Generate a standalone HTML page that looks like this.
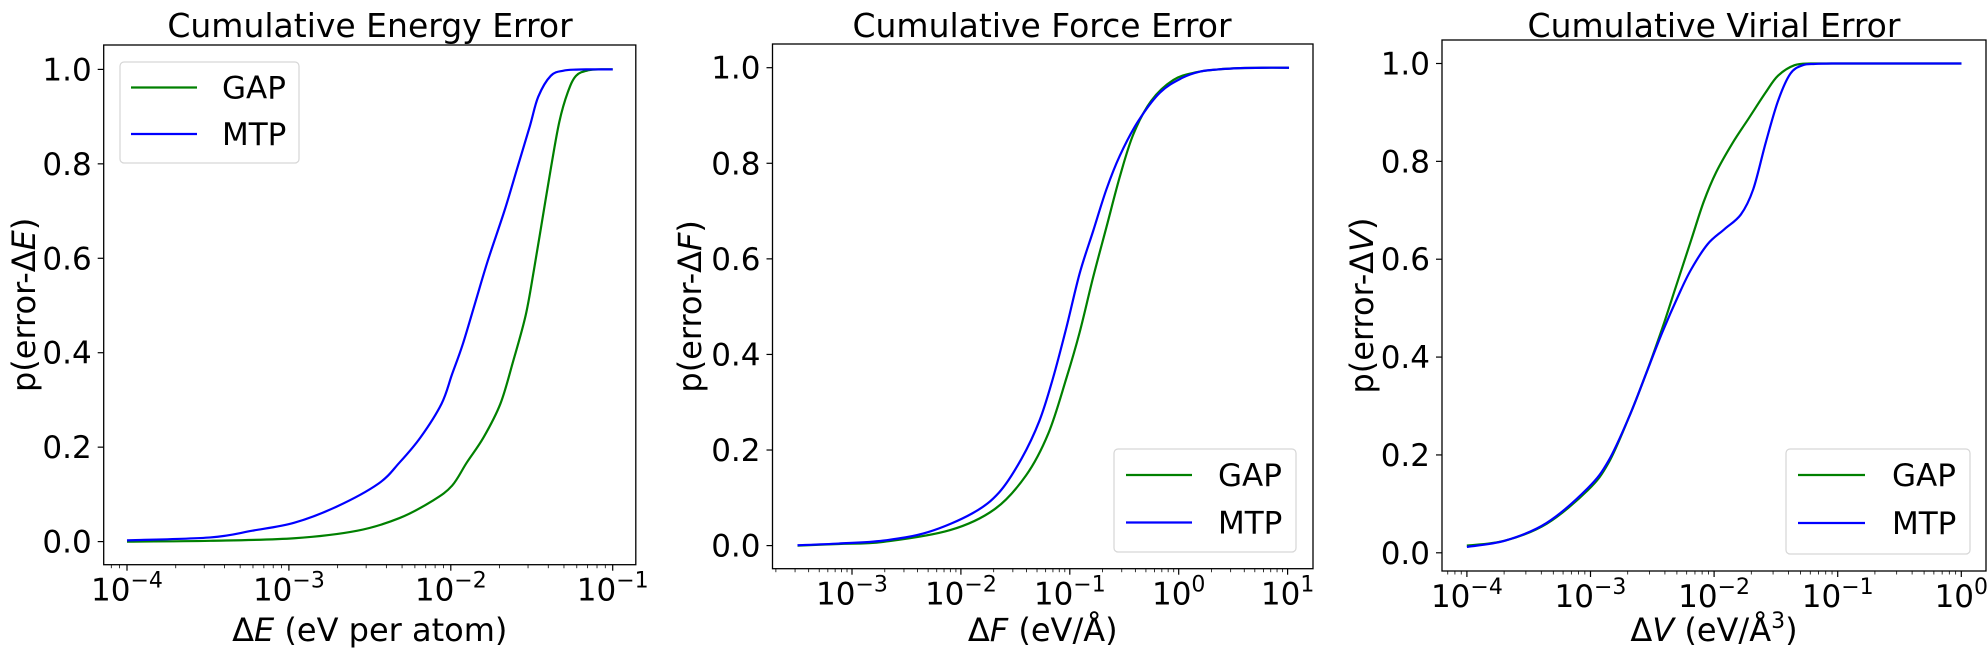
<!DOCTYPE html>
<html><head><meta charset="utf-8"><style>
body{margin:0;background:#fff}
svg{display:block;font-family:"DejaVu Sans","Liberation Sans",sans-serif}
</style></head><body>
<svg id="s" width="1988" height="659" viewBox="0 0 1988 659" xmlns="http://www.w3.org/2000/svg">
<rect width="1988" height="659" fill="#fff"/>
<g transform="scale(0.42052)" fill="none" stroke-width="2.2">
<polyline class="c" vector-effect="non-scaling-stroke" stroke="#008000" points="302,1288 500,1286 700,1280 850,1262 950,1232 1030,1190 1075,1155 1110,1100 1150,1040 1190,960 1220,860 1250,750 1270,640 1290,520 1310,400 1330,290 1350,220 1370,180 1400,167 1430,165 1457,165"/>
<polyline class="c" vector-effect="non-scaling-stroke" stroke="#0000ff" points="302,1285 500,1278 600,1262 700,1243 800,1205 900,1150 950,1100 1000,1040 1050,960 1075,890 1100,820 1130,720 1160,620 1200,500 1230,400 1260,300 1280,230 1310,180 1340,168 1370,165.5 1400,165 1430,165 1457,165"/>
</g>
<g transform="translate(660,0) scale(0.44643,0.42070)" fill="none" stroke-width="2.2">
<polyline class="c" vector-effect="non-scaling-stroke" stroke="#008000" points="308,1297 400,1293 500,1288 650,1260 750,1210 820,1130 870,1030 910,900 940,790 970,660 1000,540 1030,420 1060,320 1100,240 1150,190 1200,172 1250,165 1300,162 1350,161 1409,161"/>
<polyline class="c" vector-effect="non-scaling-stroke" stroke="#0000ff" points="308,1296 400,1292 500,1285 600,1265 700,1220 760,1170 810,1090 850,1000 880,900 910,780 940,650 970,550 1000,450 1030,370 1070,290 1120,220 1170,185 1210,170 1250,165 1300,162 1350,161 1409,161"/>
</g>
<g transform="translate(1340,0) scale(0.41322,0.42070)" fill="none" stroke-width="2.2">
<polyline class="c" vector-effect="non-scaling-stroke" stroke="#008000" points="307,1297 400,1285 500,1245 600,1165 650,1100 700,990 740,890 780,780 810,690 850,570 880,480 910,410 950,340 990,280 1030,220 1060,180 1100,155 1140,151 1180,151 1240,151 1320,151 1420,151 1504,151"/>
<polyline class="c" vector-effect="non-scaling-stroke" stroke="#0000ff" points="307,1300 400,1285 500,1243 600,1160 650,1095 700,990 740,890 780,790 820,700 850,640 890,580 930,545 970,510 1000,450 1030,340 1060,240 1090,175 1120,155 1150,152 1190,151 1240,151 1320,151 1420,151 1504,151"/>
</g>
<g id="dyn"></g>
</svg>
<script>
var NS="http://www.w3.org/2000/svg",g=document.getElementById("dyn");
Array.prototype.slice.call(document.querySelectorAll("polyline.c")).forEach(function(pl){
 var pts=pl.getAttribute("points").trim().split(/\s+/).map(function(s){return s.split(",").map(Number);});
 var d="M"+pts[0][0]+","+pts[0][1];
 for(var i=0;i<pts.length-1;i++){
  var p0=pts[i-1]||pts[i],p1=pts[i],p2=pts[i+1],p3=pts[i+2]||p2;
  var c1=[p1[0]+(p2[0]-p0[0])/6,p1[1]+(p2[1]-p0[1])/6],c2=[p2[0]-(p3[0]-p1[0])/6,p2[1]-(p3[1]-p1[1])/6];
  d+=" C"+c1[0]+","+c1[1]+" "+c2[0]+","+c2[1]+" "+p2[0]+","+p2[1];
 }
 var path=document.createElementNS(NS,"path");
 path.setAttribute("d",d);path.setAttribute("stroke",pl.getAttribute("stroke"));
 path.setAttribute("vector-effect","non-scaling-stroke");path.setAttribute("fill","none");path.setAttribute("stroke-width","2.2");
 pl.parentNode.replaceChild(path,pl);
});
function el(t,a,txt){var e=document.createElementNS(NS,t);for(var k in a)e.setAttribute(k,a[k]);if(txt!=null)e.textContent=txt;g.appendChild(e);return e;}
var P=[
{L:103.7,R:635.8,T:45,B:564.7,y0:541.6,y1:69.4,x0:127,dec:161.9,e0:-4,e1:-1,title:"Cumulative Energy Error",yl:"E",xl:["E"," (eV per atom)"],ylx:24,tx:370,cube:false},
{L:772.5,R:1313,T:44,B:568.7,y0:545.6,y1:67.7,x0:852,dec:108.9,e0:-3,e1:1,title:"Cumulative Force Error",yl:"F",xl:["F"," (eV/Å)"],ylx:690,tx:1042,cube:false},
{L:1442,R:1986,T:40,B:571,y0:552.8,y1:63.5,x0:1466.9,dec:123.6,e0:-4,e1:0,title:"Cumulative Virial Error",yl:"V",xl:["V"," (eV/Å"],ylx:1362,tx:1714,cube:true}
];
P.forEach(function(p){
 el("rect",{x:p.L,y:p.T,width:p.R-p.L,height:p.B-p.T,fill:"none",stroke:"#000","stroke-width":1.3});
 for(var i=0;i<=5;i++){var v=i*0.2,y=p.y0+(p.y1-p.y0)*v;
  el("line",{x1:p.L-6,x2:p.L,y1:y,y2:y,stroke:"#000","stroke-width":1.2});
  el("text",{x:p.L-12,y:y+11,"font-size":31,"text-anchor":"end"},v.toFixed(1));}
 for(var e=p.e0-1;e<=p.e1+1;e++){
  for(var m=1;m<10;m++){var x=p.x0+(e-p.e0+Math.log10(m))*p.dec;
   if(x<p.L||x>p.R)continue;
   el("line",{x1:x,x2:x,y1:p.B,y2:p.B+(m==1?6:3.5),stroke:"#000","stroke-width":m==1?1.2:0.8});
   if(m==1&&e>=p.e0&&e<=p.e1){
    var t=el("text",{x:x,y:p.B+36,"font-size":31,"text-anchor":"middle"});
    var a=document.createElementNS(NS,"tspan");a.textContent="10";t.appendChild(a);
    var b=document.createElementNS(NS,"tspan");b.setAttribute("font-size","22");b.setAttribute("dy","-13");b.textContent=(e<0?"\u2212":"")+Math.abs(e);t.appendChild(b);
   }}}
 el("text",{x:p.tx,y:37,"font-size":33,"text-anchor":"middle"},p.title);
 var cy=(p.T+p.B)/2;
 var t=el("text",{x:0,y:0,"font-size":32,"text-anchor":"middle",transform:"translate("+(p.ylx+11)+","+cy+") rotate(-90)"});
 t.innerHTML='p(error-Δ<tspan font-style="italic">'+p.yl+'</tspan>)';
 var cx=(p.L+p.R)/2;
 var t2=el("text",{x:cx,y:641,"font-size":32,"text-anchor":"middle"});
 t2.innerHTML='Δ<tspan font-style="italic">'+p.xl[0]+'</tspan>'+p.xl[1]+(p.cube?'<tspan font-size="22" dy="-13">3</tspan><tspan dy="13">)</tspan>':'');
});
function leg(x1,y1,x2,y2,lx1,lx2,tx,ya,yb){
 el("rect",{x:x1,y:y1,width:x2-x1,height:y2-y1,rx:4,fill:"#fff","fill-opacity":0.8,stroke:"#d6d6d6","stroke-width":1.2});
 el("line",{x1:lx1,x2:lx2,y1:ya,y2:ya,stroke:"#008000","stroke-width":2.2});
 el("line",{x1:lx1,x2:lx2,y1:yb,y2:yb,stroke:"#0000ff","stroke-width":2.2});
 el("text",{x:tx,y:ya+11,"font-size":31},"GAP");
 el("text",{x:tx,y:yb+11,"font-size":31},"MTP");
}
leg(120,62,299,163,131,197,222,87.5,134);
leg(1114,449,1296,552,1126,1192,1218,475,522.5);
leg(1786,449,1970,554,1798,1865,1892,475,523);
</script>
</body></html>
